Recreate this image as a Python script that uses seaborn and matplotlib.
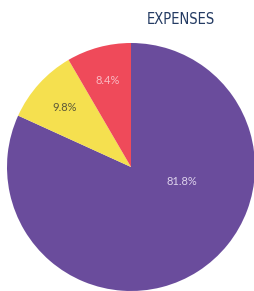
import matplotlib
matplotlib.use("Agg")
import matplotlib.pyplot as plt
import seaborn as sns

# data
categories = ["Main", "Second", "Third"]
shares = [81.8, 9.8, 8.4]
colors = ["#6a4c9c", "#f5e04f", "#ef4a5a"]
label_colors = ["#ddd2ec", "#5c5838", "#f9b9c2"]

sns.set_style("white")

fig = plt.figure(figsize=(2.54, 2.91), dpi=100)
ax = fig.add_axes([0, 0, 1, 1])

wedges, texts, autotexts = ax.pie(
    shares,
    colors=colors,
    startangle=90,
    counterclock=False,
    autopct="%.1f%%",
    pctdistance=0.72,
    wedgeprops=dict(linewidth=0),
    textprops=dict(fontsize=8, family="Lato"),
)
for t, c in zip(autotexts, label_colors):
    t.set_color(c)
# big slice label sits near the middle of the visible part
autotexts[0].set_position((0.41, -0.12))

ax.set_aspect("auto")
ax.set_xlim(-131 / 124, 123 / 124)
ax.set_ylim(-1.0, 167 / 124)
ax.axis("off")

fig.text(181 / 254, 1 - 20 / 291, "EXPENSES", ha="center", va="center",
         fontsize=10.5, family="DejaVu Sans", fontstretch="condensed",
         color="#243b63")

fig.savefig("out.png", dpi=100)
